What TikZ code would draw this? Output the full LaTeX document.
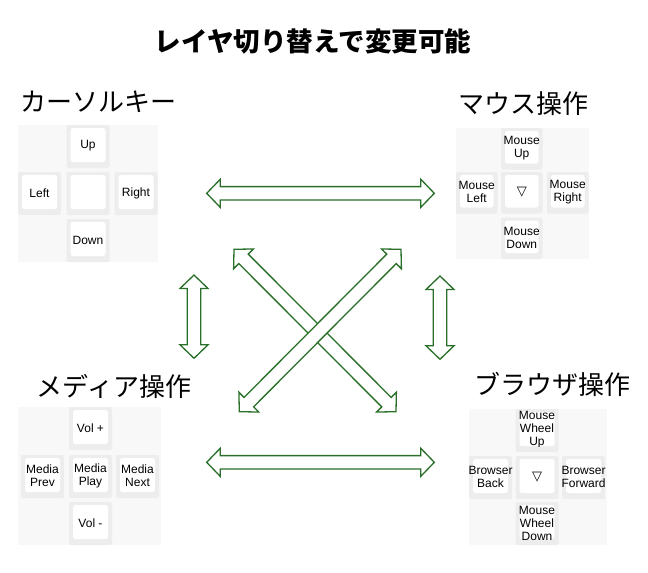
\documentclass[tikz,border=0pt]{standalone}
\usepackage{fontspec}
\usepackage{xcolor}
\usepackage{tikz}
\usetikzlibrary{calc}
\setmainfont{Liberation Sans}
\newfontfamily\jpfont{Noto Sans CJK JP}
\newfontfamily\symfont{DejaVu Sans}

\definecolor{arrowgreen}{RGB}{40,112,40}
\definecolor{padgray}{RGB}{248,248,248}
\definecolor{cellgray}{RGB}{237,237,237}

\tikzset{
  keytext/.style={inner sep=0pt, align=center, font=\fontsize{12}{13}\selectfont},
  padlabel/.style={inner sep=0pt, font=\jpfont\fontsize{26}{30}\selectfont},
  swap/.style={draw=arrowgreen, fill=white, line width=1.3pt}
}

\newcommand{\arrhead}{13.5pt}
\newcommand{\arrwide}{14pt}
\newcommand{\arrshaft}{6.7pt}

% name, x, y, size, label
\newcommand{\keycap}[5]{%
  \fill[cellgray, rounded corners=2pt] (#2,#3) rectangle ++(#4,#4);
  \fill[white, rounded corners=2.5pt] (#2+4,#3+3) rectangle (#2+#4-4,#3+#4-6);
  \begin{scope}
    \clip (#2,#3) rectangle (#2+#4,#3+#4-6);
    \node[keytext] (#1) at (#2+#4/2,#3+#4/2-0.5) {#5};
  \end{scope}}

\newcommand{\swaparrow}[2]{%
  \draw[swap] (#1)
    -- ($(#1)!\arrhead!(#2)!\arrwide!90:(#2)$)
    -- ($(#1)!\arrhead!(#2)!\arrshaft!90:(#2)$)
    -- ($(#2)!\arrhead!(#1)!\arrshaft!-90:(#1)$)
    -- ($(#2)!\arrhead!(#1)!\arrwide!-90:(#1)$)
    -- (#2)
    -- ($(#2)!\arrhead!(#1)!\arrwide!90:(#1)$)
    -- ($(#2)!\arrhead!(#1)!\arrshaft!90:(#1)$)
    -- ($(#1)!\arrhead!(#2)!\arrshaft!-90:(#2)$)
    -- ($(#1)!\arrhead!(#2)!\arrwide!-90:(#2)$)
    -- cycle;}

\begin{document}
\begin{tikzpicture}[x=1pt, y=-1pt]
  \useasboundingbox[fill=white] (0,0) rectangle (648,573);

  \node[padlabel, font=\jpfont\bfseries\fontsize{26.5}{30}\selectfont] (title) at (313,41) {レイヤ切り替えで変更可能};

  \node[padlabel] (cursor) at (98,102) {カーソルキー};
  \node[padlabel] (mouse) at (523,104) {マウス操作};
  \node[padlabel] (media) at (114,386) {メディア操作};
  \node[padlabel] (browser) at (552,384) {ブラウザ操作};

  \fill[padgray] (18,125) rectangle (158,262);
  \keycap{cur-up}{66.5}{125}{43}{Up}
  \keycap{cur-left}{18}{172}{43}{Left}
  \keycap{cur-mid}{66.5}{172}{43}{}
  \keycap{cur-right}{114.5}{172}{43}{Right}
  \keycap{cur-down}{66.5}{219}{43}{Down}

  \fill[padgray] (456,128) rectangle (589,259);
  \keycap{mou-up}{501}{128}{41.5}{Mouse\\Up}
  \keycap{mou-left}{456}{172}{41.5}{Mouse\\Left}
  \keycap{mou-mid}{501}{172}{41.5}{{\symfont\fontsize{13}{13}\selectfont ▽}}
  \keycap{mou-right}{547}{172}{41.5}{Mouse\\Right}
  \keycap{mou-down}{501}{217.5}{41.5}{Mouse\\Down}

  \fill[padgray] (18,407) rectangle (161,545);
  \keycap{med-up}{69}{407}{43}{Vol +}
  \keycap{med-left}{21}{455}{43}{Media\\Prev}
  \keycap{med-mid}{69}{455}{43}{Media\\Play}
  \keycap{med-right}{116}{455}{43}{Media\\Next}
  \keycap{med-down}{69}{502}{43}{Vol -}

  \fill[padgray] (469,409) rectangle (607,545);
  \keycap{bro-up}{515.5}{409}{43}{Mouse\\Wheel\\Up}
  \keycap{bro-left}{469}{456}{43}{Browser\\Back}
  \keycap{bro-mid}{515.5}{456}{43}{{\symfont\fontsize{13}{13}\selectfont ▽}}
  \keycap{bro-right}{562}{456}{43}{Browser\\Forward}
  \keycap{bro-down}{515.5}{502}{43}{Mouse\\Wheel\\Down}

  \coordinate (cur-e) at (206.7,193.3);
  \coordinate (mou-w) at (434.3,193.3);
  \coordinate (med-e) at (206.7,462.3);
  \coordinate (bro-w) at (434.3,462.3);
  \coordinate (cur-s) at (194,275);
  \coordinate (med-n) at (194,358.3);
  \coordinate (mou-s) at (440,276);
  \coordinate (bro-n) at (440,359.3);
  \coordinate (cur-se) at (234,249.3);
  \coordinate (bro-nw) at (396,411.7);
  \coordinate (med-ne) at (239.3,411.7);
  \coordinate (mou-sw) at (401,249.3);

  \swaparrow{cur-e}{mou-w}
  \swaparrow{med-e}{bro-w}
  \swaparrow{cur-s}{med-n}
  \swaparrow{mou-s}{bro-n}
  \swaparrow{cur-se}{bro-nw}
  \swaparrow{med-ne}{mou-sw}
\end{tikzpicture}
\end{document}
